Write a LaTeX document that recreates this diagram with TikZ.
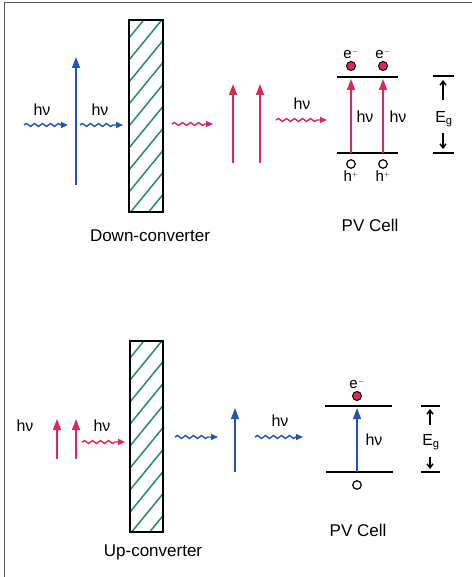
\documentclass[tikz,border=0pt]{standalone}
\usepackage{fontspec}
\setmainfont{Liberation Sans}
\usetikzlibrary{arrows.meta,decorations.pathmorphing,positioning}
\definecolor{photblue}{RGB}{35,85,175}
\definecolor{photred}{RGB}{218,40,88}
\definecolor{hatchgreen}{RGB}{40,140,95}
\tikzset{
  photon/.style={line width=1.4pt,decorate,decoration={snake,amplitude=1.5pt,segment length=8pt,post length=7pt},-{Triangle[length=7pt,width=6pt]}},
  excite/.style={line width=1.4pt,-{Triangle[length=11pt,width=8pt]}},
  band/.style={line width=1.6pt},
  gapline/.style={line width=1.4pt},
  gaparrow/.style={line width=1.4pt,-{Straight Barb[length=4pt,width=6pt]}},
  lbl/.style={font=\fontsize{16}{18}\selectfont,inner sep=1pt},
  caplbl/.style={font=\fontsize{17}{19}\selectfont,inner sep=1pt},
  chargelbl/.style={font=\fontsize{15}{17}\selectfont,inner sep=1pt},
  electron/.style={circle,draw=black,fill=photred,line width=1pt,inner sep=0pt,minimum size=9pt},
  hole/.style={circle,draw=black,fill=white,line width=1.2pt,inner sep=0pt,minimum size=8.5pt},
  converter/.style={draw=black,line width=1.2pt}
}
\begin{document}
\begin{tikzpicture}[x=1pt,y=-1pt]
\useasboundingbox (0,0) rectangle (472,577);
% cornice
\draw[gray!70!black,line width=1pt] (4,577) -- (4,3) -- (472,3);

% ---- down-converter ----
\coordinate (d1a) at (24,125);  \coordinate (d1b) at (68,125);
\coordinate (d2a) at (80,125);  \coordinate (d2b) at (123,125);
\coordinate (dva) at (76,185);  \coordinate (dvb) at (76,57);
\draw[photon,photblue] (d1a) -- (d1b);
\draw[excite,photblue] (dva) -- (dvb);
\draw[photon,photblue] (d2a) -- (d2b);
\node[lbl] (dhv1) at (42,110) {hν};
\node[lbl] (dhv2) at (100,110) {hν};
% lastra
\begin{scope}
\clip (129,20) rectangle (163,212);
\foreach \k in {0,...,9}
  \draw[hatchgreen,line width=1.5pt] (129,38+22*\k) -- ++(36,-44);
\end{scope}
\draw[converter] (129,20) rectangle (163,212);
\node[caplbl] (down) at (150,236) {Down-converter};
% fotoni rossi
\coordinate (d3a) at (172,124); \coordinate (d3b) at (213,124);
\draw[photon,photred] (d3a) -- (d3b);
\coordinate (r1a) at (233,163); \coordinate (r1b) at (233,84);
\coordinate (r2a) at (260,163); \coordinate (r2b) at (260,84);
\draw[excite,photred] (r1a) -- (r1b);
\draw[excite,photred] (r2a) -- (r2b);
\coordinate (d4a) at (276,120); \coordinate (d4b) at (327,120);
\draw[photon,photred] (d4a) -- (d4b);
\node[lbl] (dhv3) at (302,104) {hν};
% cella
\coordinate (cbl) at (337,77);  \coordinate (cbr) at (398,77);
\coordinate (vbl) at (337,153); \coordinate (vbr) at (398,153);
\draw[band] (cbl) -- (cbr);
\draw[band] (vbl) -- (vbr);
\foreach \x/\n in {351/a,383/b} {
  \node[electron] (el\n) at (\x,66) {};
  \node[chargelbl,above=1pt of el\n] (ee\n) {e$^{\scriptscriptstyle -}$};
  \node[hole] (ho\n) at (\x,164) {};
  \node[chargelbl,below=1pt of ho\n] (hh\n) {h$^{\scriptscriptstyle +}$};
  \draw[excite,photred] (\x,153) -- (\x,79);
}
\node[lbl] (dhv4) at (365,117) {hν};
\node[lbl] (dhv5) at (398,117) {hν};
% gap
\coordinate (gt1) at (433,76);  \coordinate (gt2) at (454,76);
\coordinate (gb1) at (433,153); \coordinate (gb2) at (454,153);
\draw[gapline] (gt1) -- (gt2);
\draw[gapline] (gb1) -- (gb2);
\node[lbl] (dEg) at (444,119) {E$_{\mathrm g}$};
\draw[gaparrow] (443,100) -- (443,80);
\draw[gaparrow] (443,133) -- (443,149);
\node[caplbl] (dpv) at (370,225) {PV Cell};

% ---- up-converter ----
\node[lbl] (uhv1) at (25,426) {hν};
\coordinate (u1a) at (57,459); \coordinate (u1b) at (57,419);
\coordinate (u2a) at (76,459); \coordinate (u2b) at (76,419);
\draw[excite,photred] (u1a) -- (u1b);
\draw[excite,photred] (u2a) -- (u2b);
\coordinate (u3a) at (82,442); \coordinate (u3b) at (125,442);
\draw[photon,photred] (u3a) -- (u3b);
\node[lbl] (uhv2) at (102,426) {hν};
% lastra
\begin{scope}
\clip (130,341) rectangle (163,532);
\foreach \k in {0,...,9}
  \draw[hatchgreen,line width=1.5pt] (130,358+22*\k) -- ++(36,-44);
\end{scope}
\draw[converter] (130,341) rectangle (163,532);
\node[caplbl] (up) at (153,552) {Up-converter};
% fotoni blu
\coordinate (u4a) at (175,437); \coordinate (u4b) at (218,437);
\draw[photon,photblue] (u4a) -- (u4b);
\coordinate (bva) at (235,472); \coordinate (bvb) at (235,408);
\draw[excite,photblue] (bva) -- (bvb);
\coordinate (u5a) at (255,437); \coordinate (u5b) at (303,437);
\draw[photon,photblue] (u5a) -- (u5b);
\node[lbl] (uhv3) at (280,421) {hν};
% cella
\coordinate (ucl) at (325,406); \coordinate (ucr) at (392,406);
\coordinate (uvl) at (326,472); \coordinate (uvr) at (393,472);
\draw[band] (ucl) -- (ucr);
\draw[band] (uvl) -- (uvr);
\node[electron] (uel) at (357,396) {};
\node[chargelbl,above=1pt of uel] (uee) {e$^{\scriptscriptstyle -}$};
\node[hole] (uho) at (357,485) {};
\draw[excite,photblue] (357,472) -- (357,408);
\node[lbl] (uhv4) at (374,440) {hν};
% gap
\coordinate (ut1) at (421,406); \coordinate (ut2) at (440,406);
\coordinate (ub1) at (421,472); \coordinate (ub2) at (440,472);
\draw[gapline] (ut1) -- (ut2);
\draw[gapline] (ub1) -- (ub2);
\node[lbl] (uEg) at (431,442) {E$_{\mathrm g}$};
\draw[gaparrow] (430,425) -- (430,409);
\draw[gaparrow] (430,457) -- (430,469);
\node[caplbl] (upv) at (358,530) {PV Cell};
\end{tikzpicture}
\end{document}
